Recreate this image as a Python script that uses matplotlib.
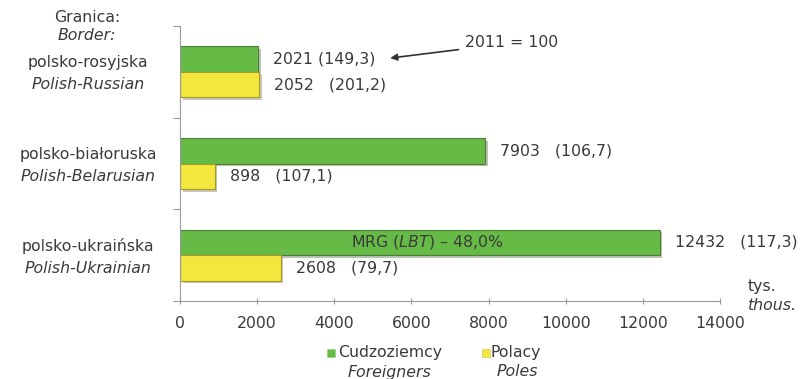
import numpy as np
import matplotlib.pyplot as plt
import matplotlib.patheffects as pe
from matplotlib.patches import Rectangle

# dane: przejścia graniczne (tys.)
borders_pl = ['polsko-rosyjska', 'polsko-białoruska', 'polsko-ukraińska']
borders_en = ['Polish-Russian', 'Polish-Belarusian', 'Polish-Ukrainian']
foreigners = [2021, 7903, 12432]
poles = [2052, 898, 2608]
foreigners_idx = [149.3, 106.7, 117.3]
poles_idx = [201.2, 107.1, 79.7]
xticks = [0, 2000, 4000, 6000, 8000, 10000, 12000, 14000]

plt.rcParams['font.family'] = ['DejaVu Sans']
fs = 11.3
txt = '#3a3a3a'
green = '#66bb47'
yellow = '#f3e63c'

fig = plt.figure(figsize=(8.05, 3.79), dpi=100)
ax = fig.add_axes([0.2236, 0.2058, 0.6708, 0.7256])

y = np.arange(len(borders_pl))
h = 0.278
shadow = [pe.SimplePatchShadow(offset=(2, -2), alpha=0.3), pe.Normal()]
b1 = ax.barh(y - h/2, foreigners, height=h, color=green, edgecolor='#4f7f35', linewidth=0.8)
b2 = ax.barh(y + h/2, poles, height=h, color=yellow, edgecolor='#a89a2a', linewidth=0.8)
for b in list(b1) + list(b2):
    b.set_path_effects(shadow)

def fmt(v):
    return ('%.1f' % v).replace('.', ',')

for i in range(len(y)):
    sep1 = ' ' if i == 0 else '   '
    ax.annotate('%d%s(%s)' % (foreigners[i], sep1, fmt(foreigners_idx[i])),
                (foreigners[i], y[i] - h/2), xytext=(11, 0), textcoords='offset points',
                va='center', ha='left', fontsize=fs, color=txt)
    ax.annotate('%d   (%s)' % (poles[i], fmt(poles_idx[i])),
                (poles[i], y[i] + h/2), xytext=(11, 0), textcoords='offset points',
                va='center', ha='left', fontsize=fs, color=txt)

# etykiety granic
for i in range(len(y)):
    ax.text(-0.17, y[i] - 0.1, borders_pl[i], transform=ax.get_yaxis_transform(),
            ha='center', va='center', fontsize=fs, color=txt)
    ax.text(-0.17, y[i] + 0.14, borders_en[i], transform=ax.get_yaxis_transform(),
            ha='center', va='center', fontsize=fs, color=txt, style='italic')

ax.text(foreigners[2] / 2 + 200, y[2] - h/2, 'MRG ($LBT$) – 48,0%', ha='center', va='center',
        fontsize=fs, color=txt)

ax.annotate('2011 = 100', xy=(5450, -0.15), xytext=(7400, -0.315),
            fontsize=fs, color=txt, va='center', ha='left',
            arrowprops=dict(arrowstyle='-|>', color='#333333', lw=1.2, shrinkA=3, shrinkB=0,
                            mutation_scale=10))

ax.set_xlim(0, 14000)
ax.set_ylim(2.5, -0.5)
ax.set_xticks(xticks)
ax.set_xticklabels([str(t) for t in xticks], fontsize=fs, color=txt)
ax.set_yticks([-0.5, 0.5, 1.5, 2.5])
ax.set_yticklabels([])
ax.tick_params(axis='x', length=4, color='#999999', pad=9, direction='inout')
ax.tick_params(axis='y', length=5, color='#999999')
for s in ['top', 'right']:
    ax.spines[s].set_visible(False)
for s in ['left', 'bottom']:
    ax.spines[s].set_color('#999999')

fig.text(87/805, 1 - 17/379, 'Granica:', ha='center', va='center', fontsize=fs, color=txt)
fig.text(87/805, 1 - 35/379, 'Border:', ha='center', va='center', fontsize=fs, color=txt, style='italic')
fig.text(748/805, 1 - 287/379, 'tys.', ha='left', va='center', fontsize=fs, color=txt)
fig.text(748/805, 1 - 305/379, 'thous.', ha='left', va='center', fontsize=fs, color=txt, style='italic')

# legenda
fig.add_artist(Rectangle((327/805, 1 - 357/379), 8/805, 8/379, transform=fig.transFigure,
                         facecolor=green, edgecolor='#9fcf8a', lw=0.5))
fig.add_artist(Rectangle((482/805, 1 - 357/379), 8/805, 8/379, transform=fig.transFigure,
                         facecolor=yellow, edgecolor='#d6c85a', lw=0.5))
fig.text(338/805, 1 - 353/379, 'Cudzoziemcy', ha='left', va='center', fontsize=fs, color=txt)
fig.text(348/805, 1 - 372/379, 'Foreigners', ha='left', va='center', fontsize=fs, color=txt, style='italic')
fig.text(490/805, 1 - 353/379, 'Polacy', ha='left', va='center', fontsize=fs, color=txt)
fig.text(497/805, 1 - 372/379, 'Poles', ha='left', va='center', fontsize=fs, color=txt, style='italic')

plt.savefig('out.png', dpi=100)
